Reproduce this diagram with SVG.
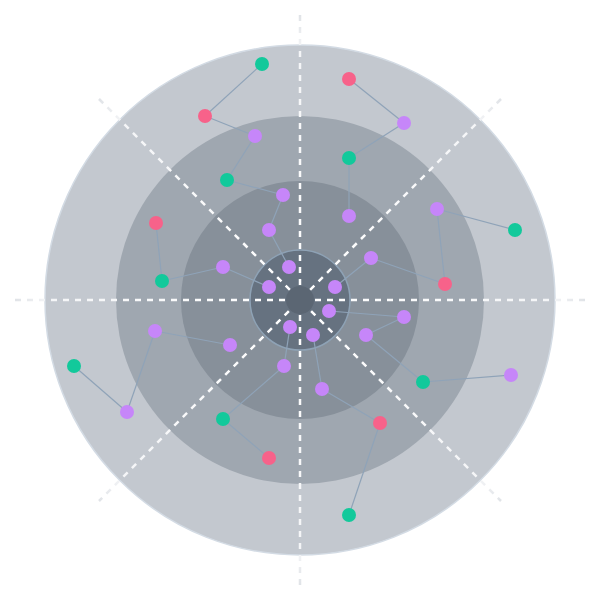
<svg xmlns="http://www.w3.org/2000/svg" width="600" height="600" viewBox="0 0 600 600">
<defs>
<radialGradient id="axisFade" gradientUnits="userSpaceOnUse" cx="300" cy="300" r="285">
<stop offset="0" stop-color="#ffffff"/>
<stop offset="0.88" stop-color="#f4f5f7"/>
<stop offset="1" stop-color="#e0e3e7"/>
</radialGradient>
</defs>
<style>
.axis{stroke:url(#axisFade);stroke-width:2.5;stroke-dasharray:6 6;fill:none}
.edge{stroke:#8fa3b8;stroke-width:1.2;fill:none}
.g{fill:#12c99b}
.p{fill:#f7628a}
.v{fill:#c686f9}
</style>
<rect width="600" height="600" fill="#ffffff"/>
<g id="rings">
<circle cx="300" cy="300" r="255" fill="#c3c8cf" stroke="#d3dbe4" stroke-width="1.5"/>
<circle cx="300" cy="300" r="184" fill="#9fa7b0"/>
<circle cx="300" cy="300" r="119" fill="#87909a"/>
<circle cx="300" cy="300" r="50" fill="#667280" stroke="#8ea2b5" stroke-width="1.5"/>
</g>
<g id="axes">
<line class="axis" x1="15" y1="300" x2="585" y2="300"/>
<line class="axis" x1="300" y1="15" x2="300" y2="585"/>
<line class="axis" x1="99" y1="99" x2="501" y2="501"/>
<line class="axis" x1="501" y1="99" x2="99" y2="501"/>
</g>
<circle id="core" cx="300" cy="300" r="14" fill="#5b6673"/>
<g id="connectors">
<line class="edge" x1="262" y1="64" x2="205" y2="116"/>
<line class="edge" x1="205" y1="116" x2="255" y2="136"/>
<line class="edge" x1="255" y1="136" x2="227" y2="180"/>
<line class="edge" x1="227" y1="180" x2="283" y2="195"/>
<line class="edge" x1="283" y1="195" x2="269" y2="230"/>
<line class="edge" x1="269" y1="230" x2="289" y2="267"/>
<line class="edge" x1="156" y1="223" x2="162" y2="281"/>
<line class="edge" x1="162" y1="281" x2="223" y2="267"/>
<line class="edge" x1="223" y1="267" x2="269" y2="287"/>
<line class="edge" x1="349" y1="79" x2="404" y2="123"/>
<line class="edge" x1="404" y1="123" x2="349" y2="158"/>
<line class="edge" x1="349" y1="158" x2="349" y2="216"/>
<line class="edge" x1="437" y1="209" x2="515" y2="230"/>
<line class="edge" x1="437" y1="209" x2="445" y2="284"/>
<line class="edge" x1="371" y1="258" x2="445" y2="284"/>
<line class="edge" x1="371" y1="258" x2="335" y2="287"/>
<line class="edge" x1="155" y1="331" x2="230" y2="345"/>
<line class="edge" x1="155" y1="331" x2="127" y2="412"/>
<line class="edge" x1="74" y1="366" x2="127" y2="412"/>
<line class="edge" x1="290" y1="327" x2="284" y2="366"/>
<line class="edge" x1="284" y1="366" x2="223" y2="419"/>
<line class="edge" x1="223" y1="419" x2="269" y2="458"/>
<line class="edge" x1="329" y1="311" x2="404" y2="317"/>
<line class="edge" x1="404" y1="317" x2="366" y2="335"/>
<line class="edge" x1="366" y1="335" x2="423" y2="382"/>
<line class="edge" x1="423" y1="382" x2="511" y2="375"/>
<line class="edge" x1="313" y1="335" x2="322" y2="389"/>
<line class="edge" x1="322" y1="389" x2="380" y2="423"/>
<line class="edge" x1="380" y1="423" x2="349" y2="515"/>
</g>
<g id="nodes">
<circle id="n1" class="g" cx="262" cy="64" r="7"/>
<circle id="n2" class="p" cx="205" cy="116" r="7"/>
<circle id="n3" class="v" cx="255" cy="136" r="7"/>
<circle id="n4" class="g" cx="227" cy="180" r="7"/>
<circle id="n5" class="v" cx="283" cy="195" r="7"/>
<circle id="n6" class="v" cx="269" cy="230" r="7"/>
<circle id="n7" class="v" cx="289" cy="267" r="7"/>
<circle id="n8" class="p" cx="156" cy="223" r="7"/>
<circle id="n9" class="g" cx="162" cy="281" r="7"/>
<circle id="n10" class="v" cx="223" cy="267" r="7"/>
<circle id="n11" class="v" cx="269" cy="287" r="7"/>
<circle id="n12" class="p" cx="349" cy="79" r="7"/>
<circle id="n13" class="v" cx="404" cy="123" r="7"/>
<circle id="n14" class="g" cx="349" cy="158" r="7"/>
<circle id="n15" class="v" cx="349" cy="216" r="7"/>
<circle id="n16" class="v" cx="437" cy="209" r="7"/>
<circle id="n17" class="g" cx="515" cy="230" r="7"/>
<circle id="n18" class="v" cx="371" cy="258" r="7"/>
<circle id="n19" class="v" cx="335" cy="287" r="7"/>
<circle id="n20" class="p" cx="445" cy="284" r="7"/>
<circle id="n21" class="v" cx="155" cy="331" r="7"/>
<circle id="n22" class="v" cx="230" cy="345" r="7"/>
<circle id="n23" class="g" cx="74" cy="366" r="7"/>
<circle id="n24" class="v" cx="127" cy="412" r="7"/>
<circle id="n25" class="v" cx="290" cy="327" r="7"/>
<circle id="n26" class="v" cx="284" cy="366" r="7"/>
<circle id="n27" class="g" cx="223" cy="419" r="7"/>
<circle id="n28" class="p" cx="269" cy="458" r="7"/>
<circle id="n29" class="v" cx="329" cy="311" r="7"/>
<circle id="n30" class="v" cx="404" cy="317" r="7"/>
<circle id="n31" class="v" cx="313" cy="335" r="7"/>
<circle id="n32" class="v" cx="366" cy="335" r="7"/>
<circle id="n33" class="g" cx="423" cy="382" r="7"/>
<circle id="n34" class="v" cx="511" cy="375" r="7"/>
<circle id="n35" class="v" cx="322" cy="389" r="7"/>
<circle id="n36" class="p" cx="380" cy="423" r="7"/>
<circle id="n37" class="g" cx="349" cy="515" r="7"/>
</g>
</svg>
